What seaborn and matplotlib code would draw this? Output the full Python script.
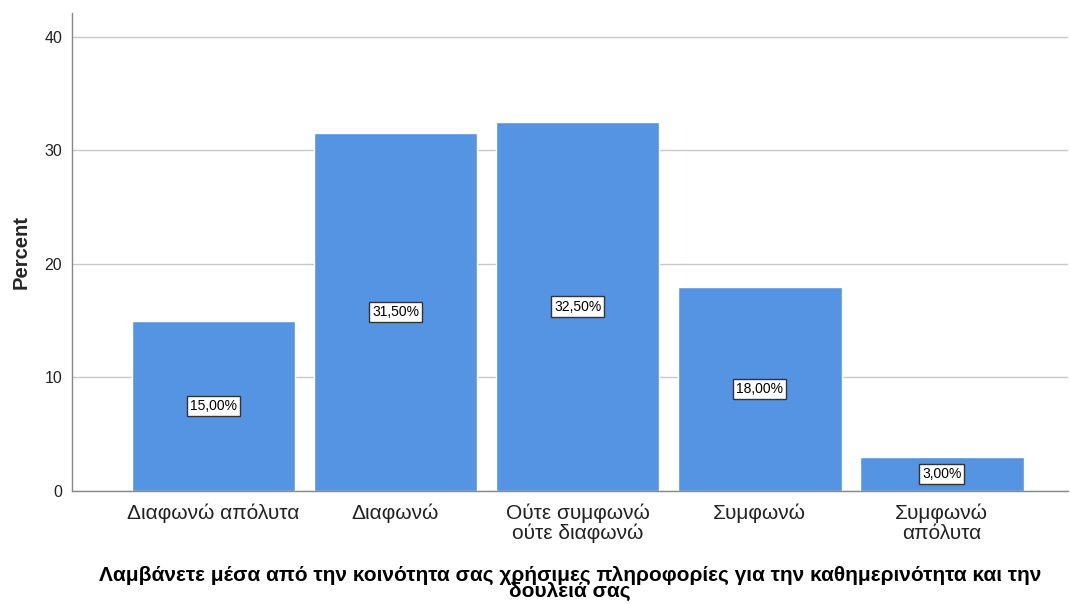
import pandas as pd
import seaborn as sns
from matplotlib import pyplot as plt

# data
categories = ["Διαφωνώ απόλυτα", "Διαφωνώ", "Ούτε συμφωνώ\nούτε διαφωνώ", "Συμφωνώ", "Συμφωνώ\nαπόλυτα"]
percents = [15.0, 31.5, 32.5, 18.0, 3.0]
y_ticks = [0, 10, 20, 30, 40]
x_title = ("Λαμβάνετε μέσα από την κοινότητα σας χρήσιμες πληροφορίες για την καθημερινότητα και την\n"
           "δουλειά σας")

df = pd.DataFrame({"answer": categories, "percent": percents})

sns.set_style("white")
plt.rcParams["font.family"] = ["Liberation Sans", "DejaVu Sans"]

fig = plt.figure(figsize=(10.7, 6.04), dpi=100)
ax = fig.add_axes([0.0673, 0.187, 0.931, 0.7915])

sns.barplot(data=df, x="answer", y="percent", color="#5494e3", width=0.9,
            saturation=1, ax=ax, zorder=2)

ax.set_xlim(-0.777, 4.695)
ax.set_ylim(0, 42.1)
ax.set_yticks(y_ticks)
ax.yaxis.grid(True, color="#c8c8c8", linewidth=1, zorder=0)
ax.set_axisbelow(True)

for spine in ["top", "right"]:
    ax.spines[spine].set_visible(False)
for spine in ["left", "bottom"]:
    ax.spines[spine].set_color("#888888")
    ax.spines[spine].set_linewidth(1)

ax.tick_params(axis="y", length=0, labelsize=11.5, colors="#222222", pad=7)
ax.tick_params(axis="x", length=0, labelsize=15, colors="#222222", pad=9)
for t in ax.get_xticklabels():
    t.set_linespacing(1.05)

for i, p in enumerate(percents):
    ax.text(i, p / 2, f"{p:.2f}".replace(".", ",") + "%", ha="center", va="center",
            fontsize=10, color="black", zorder=5,
            bbox=dict(boxstyle="square,pad=0.22", facecolor="white",
                      edgecolor="#333333", linewidth=1))

ax.set_ylabel("Percent", fontsize=14.5, fontweight="bold", labelpad=10)
ax.set_xlabel(x_title, fontsize=15, fontweight="bold", labelpad=16,
              linespacing=0.8, color="black")

fig.savefig("out.png", dpi=100)
